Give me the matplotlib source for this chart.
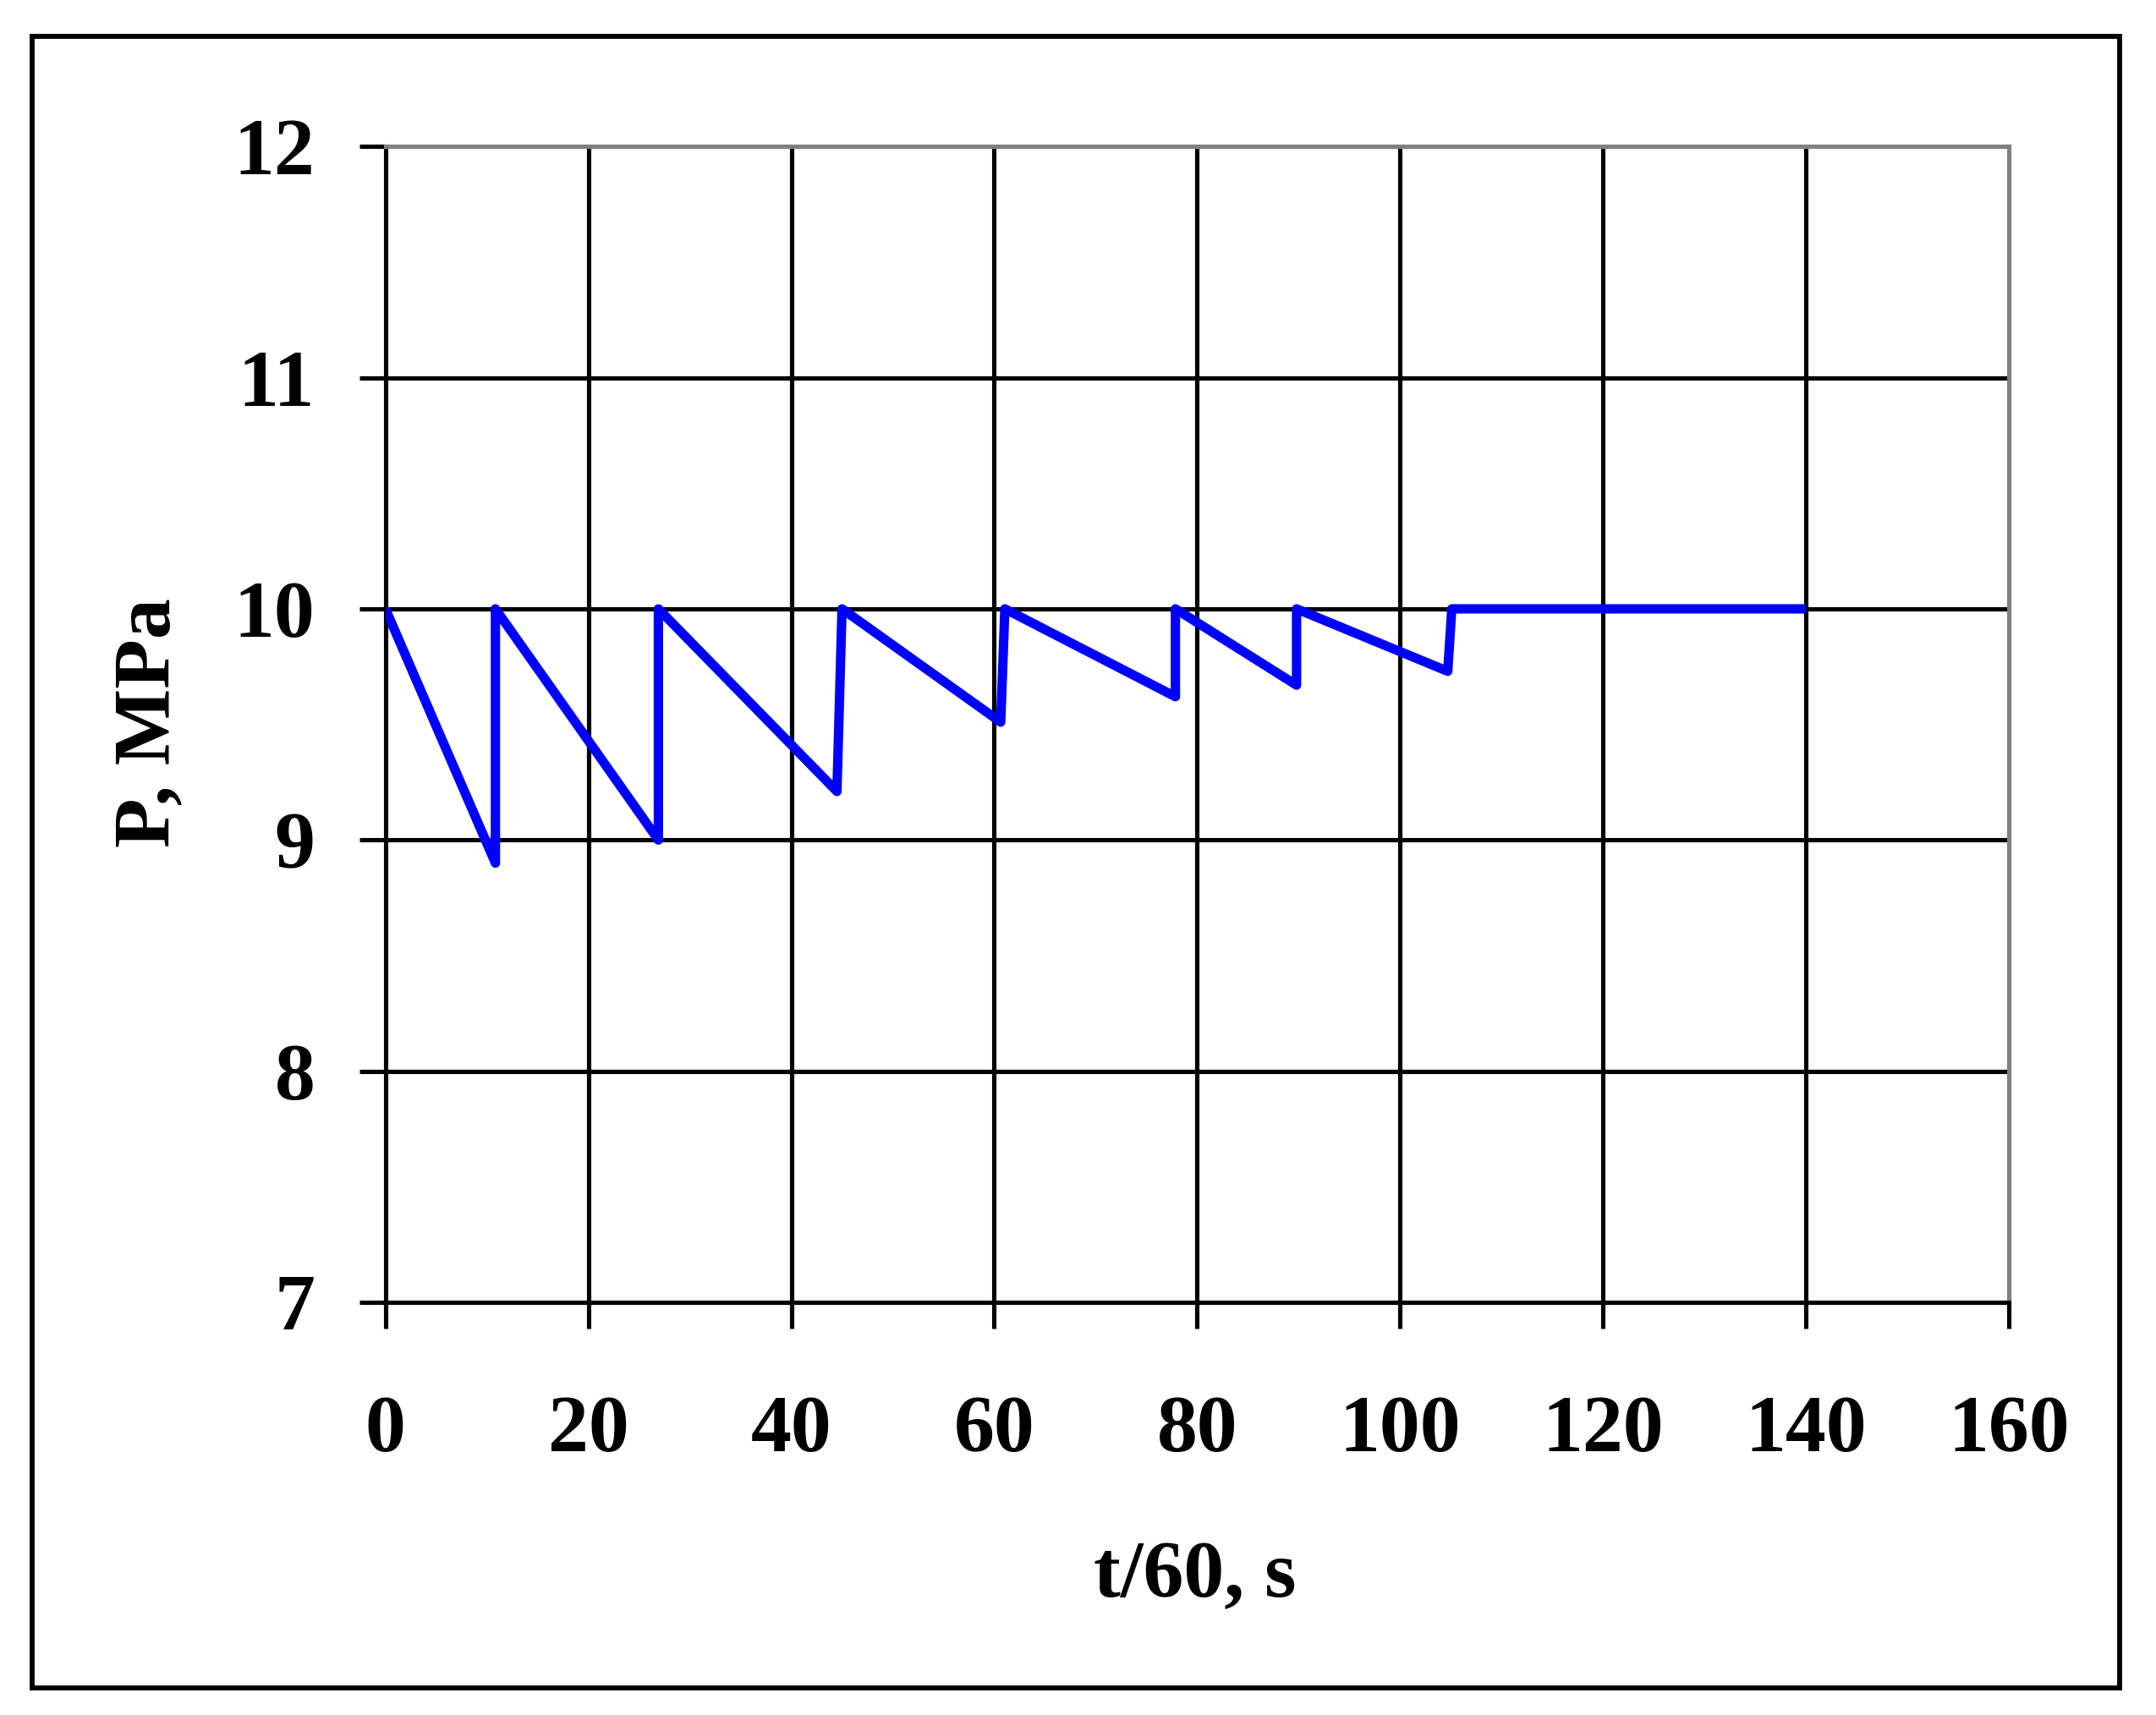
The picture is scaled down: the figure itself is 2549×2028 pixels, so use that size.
import matplotlib
matplotlib.use("Agg")
import matplotlib.pyplot as plt
from matplotlib.patches import Rectangle

# Data (t/60 in s, P in MPa)
t_vals = [0, 10.84, 10.84, 26.9, 26.9, 44.5, 45.0, 60.64, 61.05, 77.86, 77.86, 89.8, 89.8, 104.7, 105.1, 140]
p_vals = [10, 8.9, 10, 9.0, 10, 9.21, 10, 9.51, 10, 9.62, 10, 9.67, 10, 9.73, 10, 10]

x_ticks = [0, 20, 40, 60, 80, 100, 120, 140, 160]
y_ticks = [7, 8, 9, 10, 11, 12]
x_label = "t/60, s"
y_label = "P, MPa"

W, H = 2549, 2028
DPI = 100
plt.rcParams['font.family'] = ['Liberation Serif', 'DejaVu Serif']
plt.rcParams['font.weight'] = 'bold'

fig = plt.figure(figsize=(W / DPI, H / DPI), dpi=DPI)
fig.patch.set_facecolor('white')

# outer frame
x0, y0, x1, y1 = 38, 43, 2506, 1996
fig.patches.append(Rectangle((x0 / W, 1 - y1 / H), (x1 - x0) / W, (y1 - y0) / H,
                             transform=fig.transFigure, fill=False,
                             edgecolor='black', linewidth=4.2))

ax_l, ax_r, ax_t, ax_b = 455.7, 2375, 173.3, 1540
ax = fig.add_axes([ax_l / W, 1 - ax_b / H, (ax_r - ax_l) / W, (ax_b - ax_t) / H])

ax.plot(t_vals, p_vals, color='#0000FF', linewidth=8.0,
        solid_joinstyle='round', solid_capstyle='butt', zorder=3)

ax.set_xlim(0, 160)
ax.set_ylim(7, 12)
ax.set_xticks(x_ticks)
ax.set_yticks(y_ticks)
ax.set_xticklabels([str(v) for v in x_ticks])
ax.set_yticklabels([str(v) for v in y_ticks])

lw = 3.7
ax.grid(True, color='black', linewidth=lw)
ax.set_axisbelow(True)
# hide gridlines on the borders
xt = ax.xaxis.get_major_ticks()
yt = ax.yaxis.get_major_ticks()
for tk in (xt[0], xt[-1]):
    tk.gridline.set_visible(False)
for tk in (yt[0], yt[-1]):
    tk.gridline.set_visible(False)

for s in ('left', 'bottom'):
    ax.spines[s].set_color('black')
    ax.spines[s].set_linewidth(lw)
for s in ('top', 'right'):
    ax.spines[s].set_color('#808080')
    ax.spines[s].set_linewidth(lw)

ax.tick_params(axis='both', direction='out', length=22, width=lw, color='black',
               labelsize=69)
ax.tick_params(axis='y', pad=38)
ax.tick_params(axis='x', pad=57)
for lab in ax.get_xticklabels() + ax.get_yticklabels():
    lab.set_fontweight('bold')

fig.text(1413 / W, 1 - 1888 / H, x_label, ha='center', va='baseline',
         fontsize=69, fontweight='bold')
fig.text(177 / W, 1 - 855 / H, y_label, ha='center', va='center', rotation=90,
         fontsize=69, fontweight='bold')

fig.savefig('out.png', dpi=DPI, facecolor='white')
